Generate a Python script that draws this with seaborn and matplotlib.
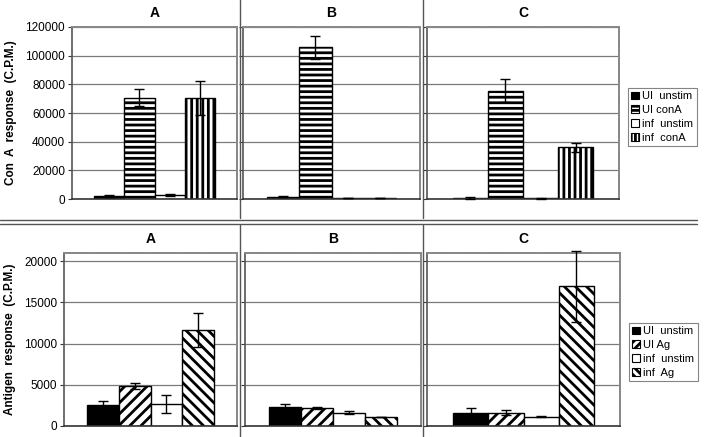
import numpy as np
import pandas as pd
import seaborn as sns
import matplotlib
matplotlib.use("Agg")
import matplotlib.pyplot as plt
from matplotlib.patches import Patch
from matplotlib.lines import Line2D

# ---------------- data ----------------
panels = ["A", "B", "C"]
top_conditions = ["UI  unstim", "UI conA", "inf  unstim", "inf  conA"]
bottom_conditions = ["UI  unstim", "UI Ag", "inf  unstim", "inf  Ag"]

conA_A = [2300, 70800, 2800, 70500]
conA_A_err = [700, 6000, 1000, 11700]
conA_B = [1500, 106000, 600, 600]
conA_B_err = [300, 8000, 0, 0]
conA_C = [1000, 75400, 600, 36000]
conA_C_err = [700, 8000, 300, 3000]

ag_A = [2550, 4850, 2700, 11650]
ag_A_err = [500, 400, 1100, 2050]
ag_B = [2350, 2150, 1600, 1150]
ag_B_err = [330, 120, 200, 0]
ag_C = [1600, 1600, 1150, 16950]
ag_C_err = [550, 300, 100, 4300]

top_ticks = [0, 20000, 40000, 60000, 80000, 100000, 120000]
bottom_ticks = [0, 5000, 10000, 15000, 20000]

# ---------------- style ----------------
sns.set_theme(style="white")
plt.rcParams["font.family"] = ["Liberation Sans", "DejaVu Sans"]
plt.rcParams["hatch.linewidth"] = 2.0
plt.rcParams["hatch.color"] = "black"
plt.rcParams["text.color"] = "black"
plt.rcParams["axes.labelcolor"] = "black"
plt.rcParams["ytick.color"] = "black"
plt.rcParams["axes.titlecolor"] = "black"

W, H = 704, 437
fig = plt.figure(figsize=(W / 100, H / 100), dpi=100)


def ax_rect(x0, y0, x1, y1):
    return [x0 / W, 1 - y1 / H, (x1 - x0) / W, (y1 - y0) / H]


top_rects = [ax_rect(72, 27, 237, 199), ax_rect(243, 27, 420, 199), ax_rect(427, 27, 619, 199)]
bot_rects = [ax_rect(64, 253, 237, 426), ax_rect(245, 253, 421, 426), ax_rect(427, 253, 620, 426)]

top_faces = ["black", "white", "white", "white"]
top_hatches = [None, "---", None, "|||"]
bot_faces = ["black", "white", "white", "white"]
bot_hatches = [None, "///", None, "\\\\\\"]


def draw_panel(rect, title, conds, vals, errs, ylim, ticks, faces, hatches, show_labels, ylabel=None):
    ax = fig.add_axes(rect)
    df = pd.DataFrame({"g": ["x"] * len(conds), "cond": conds, "val": vals})
    sns.barplot(data=df, x="g", y="val", hue="cond", hue_order=conds,
                palette=faces, edgecolor="black", linewidth=1.0, width=0.73,
                errorbar=None, legend=False, ax=ax, saturation=1)
    bars = [p for p in ax.patches][:len(conds)]
    for p, h, fc in zip(bars, hatches, faces):
        p.set_facecolor(fc)
        if h:
            p.set_hatch(h)
        p.set_edgecolor("black")
    xs = [p.get_x() + p.get_width() / 2 for p in bars]
    hs = [p.get_height() for p in bars]
    eb = ax.errorbar(xs, hs, yerr=errs, fmt="none", ecolor="black", elinewidth=1.0,
                     capsize=3.6, capthick=1.0, zorder=5)
    for art in eb.lines[1] + eb.lines[2]:
        art.set_clip_on(False)
    for art in eb.lines[2]:
        art.set_clip_on(False)
    ax.set_xlim(-0.5, 0.5)
    ax.set_ylim(*ylim)
    ax.set_yticks(ticks)
    ax.yaxis.grid(True, color="#7a7a7a", linewidth=0.9)
    ax.set_axisbelow(True)
    ax.set_xticks([])
    ax.set_xlabel("")
    ax.set_ylabel("")
    ax.tick_params(axis="y", which="both", left=True, length=3, width=0.8,
                   color="#333333", labelsize=8.5, pad=2)
    if show_labels:
        for t in ax.get_yticklabels():
            t.set_fontweight("medium")
    else:
        ax.set_yticklabels([])
    for s in ["top", "right"]:
        ax.spines[s].set_color("#888888")
        ax.spines[s].set_linestyle((0, (1, 0.6)))
        ax.spines[s].set_linewidth(1.4)
    ax.spines["left"].set_color("#555555")
    ax.spines["left"].set_linewidth(1.2)
    ax.spines["bottom"].set_color("#333333")
    ax.spines["bottom"].set_linewidth(1.2)
    ax.set_title(title, fontsize=10, fontweight="bold", pad=7, color="black")
    if ylabel:
        ax.set_ylabel(ylabel, fontsize=8.5, fontweight="bold", labelpad=6, color="black")
    return ax


top_vals = [(conA_A, conA_A_err), (conA_B, conA_B_err), (conA_C, conA_C_err)]
bot_vals = [(ag_A, ag_A_err), (ag_B, ag_B_err), (ag_C, ag_C_err)]

for i, (rect, name, (v, e)) in enumerate(zip(top_rects, panels, top_vals)):
    draw_panel(rect, name, top_conditions, v, e, (0, 120000), top_ticks,
               top_faces, top_hatches, i == 0,
               "Con  A  response  (C.P.M.)" if i == 0 else None)

for i, (rect, name, (v, e)) in enumerate(zip(bot_rects, panels, bot_vals)):
    draw_panel(rect, name, bottom_conditions, v, e, (0, 21000), bottom_ticks,
               bot_faces, bot_hatches, i == 0,
               "Antigen  response  (C.P.M.)" if i == 0 else None)

# legends
def make_handles(hatches, faces):
    hs = []
    for h, fc in zip(hatches, faces):
        hs.append(Patch(facecolor=fc, edgecolor="black", hatch=h, linewidth=0.8))
    return hs

leg_hatch_top = [None, "----", None, "||||"]
leg_hatch_bot = [None, "////", None, "\\\\\\\\"]

for conds, hatches, faces, (x0, y0) in [
    (top_conditions, leg_hatch_top, top_faces, (628, 88)),
    (bottom_conditions, leg_hatch_bot, bot_faces, (629, 323)),
]:
    leg = fig.legend(make_handles(hatches, faces), conds, loc="upper left",
                     bbox_to_anchor=(x0 / W, 1 - y0 / H), frameon=True,
                     fancybox=False, fontsize=8, handlelength=0.7,
                     handleheight=0.7, handletextpad=0.3, borderpad=0.3,
                     labelspacing=0.35, borderaxespad=0)
    leg.get_frame().set_edgecolor("#666666")
    leg.get_frame().set_linewidth(0.8)

# separator lines
lc = "#555555"
for xv in [239.5, 423]:
    fig.add_artist(Line2D([xv / W, xv / W], [1 - 0 / H, 1 - 218 / H], color=lc, lw=1.0))
    fig.add_artist(Line2D([xv / W, xv / W], [1 - 225 / H, 0], color=lc, lw=1.0))
for yv in [219.5, 224]:
    fig.add_artist(Line2D([0.0, 697 / W], [1 - yv / H, 1 - yv / H], color=lc, lw=1.0))

fig.savefig("out.png", dpi=100)
